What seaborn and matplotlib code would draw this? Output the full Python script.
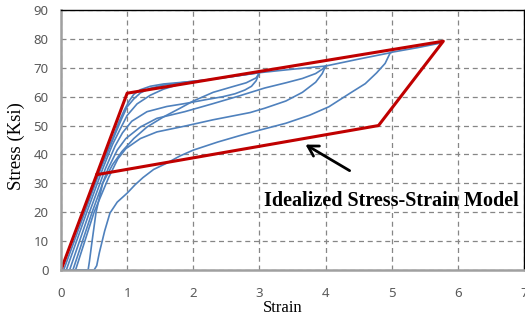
import matplotlib
matplotlib.use("Agg")
import matplotlib.pyplot as plt
import seaborn as sns
import pandas as pd

# ---- data ----
ideal_strain = [0, 1.0, 5.78, 4.8, 0.54]
ideal_stress = [0, 61.2, 79.2, 50.0, 33.0]

c1_x = [0, 0.33, 0.57, 0.78, 0.88, 0.96, 1.03, 1.1, 1.2, 1.35, 1.55, 1.75, 1.9]
c1_y = [0, 20, 34, 45.5, 51.5, 55.5, 58.5, 60.8, 62.4, 63.6, 64.4, 64.8, 65.1]
c2_x = [0.04, 0.36, 0.6, 0.8, 0.91, 1.0, 1.1, 1.2, 1.35, 1.55, 1.75, 1.9, 2.2, 2.6, 3.0]
c2_y = [0, 20, 35, 46, 52, 56.5, 59.2, 61.3, 62.9, 64.0, 64.6, 65.1, 65.8, 67.0, 68.3]
c3_x = [0.08, 0.39, 0.63, 0.78, 0.9, 1.0, 1.15, 1.35, 1.55, 1.72, 1.9, 2.2, 2.6, 3.0, 3.5, 4.0]
c3_y = [0, 20, 35, 43.5, 49, 53.5, 57.5, 60.5, 62.6, 63.8, 65.1, 65.8, 67.0, 68.3, 69.5, 70.6]
c4_x = [0.13, 0.43, 0.67, 0.82, 0.93, 1.07, 1.3, 1.6, 1.87, 2.2, 2.45, 2.63, 2.78, 2.88, 2.95, 3.0]
c4_y = [0, 20, 35, 43, 47.5, 51.5, 54.8, 56.6, 57.6, 59.0, 60.0, 61.0, 62.3, 63.6, 65.5, 68.3]
c5_x = [0.18, 0.47, 0.71, 0.85, 0.98, 1.2, 1.45, 1.87, 2.3, 2.7, 3.08, 3.4, 3.65, 3.85, 3.95, 4.0, 4.5, 5.0]
c5_y = [0, 20, 35, 41.5, 45.5, 49.5, 52.5, 54.8, 57.6, 60.3, 63.0, 64.8, 66.3, 68.0, 69.5, 70.6, 73.0, 75.3]
c6_x = [0.22, 0.5, 0.72, 0.86, 0.98, 1.2, 1.45, 1.87, 2.3, 2.86, 3.08, 3.4, 3.65, 3.85, 3.95, 4.0]
c6_y = [0, 20, 32, 38.5, 42, 45.5, 47.8, 49.8, 52.0, 54.5, 56.0, 58.5, 61.5, 65.0, 68.0, 70.6]
c7_x = [0, 0.41, 0.43, 0.47, 0.53, 0.63, 0.78, 0.92, 1.1, 1.3, 1.55, 1.8, 2.0, 2.3, 2.6, 2.8, 2.95, 3.0]
c7_y = [0, 0, 3, 10, 20, 30, 36.5, 41, 45.5, 49.5, 53, 56, 58.5, 61.5, 63.5, 64.8, 66.5, 68.3]
c8_x = [0, 0.5, 0.54, 0.58, 0.66, 0.74, 0.85, 1.0, 1.12, 1.24, 1.4, 1.6, 1.8, 2.0, 2.37, 2.7,
        3.0, 3.4, 3.76, 4.05, 4.37, 4.6, 4.77, 4.9, 4.98, 5.4, 5.75]
c8_y = [0, 0, 1.5, 6, 13.5, 19.7, 23.5, 26.6, 29.5, 32, 34.8, 37, 39.5, 41.5, 44.3, 46.5,
        48.4, 50.8, 53.6, 56.5, 61.2, 64.5, 68.2, 71.5, 75.3, 77.0, 78.6]

xticks = [0, 1, 2, 3, 4, 5, 6, 7]
yticks = [0, 10, 20, 30, 40, 50, 60, 70, 80, 90]
annotation = "Idealized Stress-Strain Model"

curves = [(c1_x, c1_y), (c2_x, c2_y), (c3_x, c3_y), (c4_x, c4_y),
          (c5_x, c5_y), (c6_x, c6_y), (c7_x, c7_y), (c8_x, c8_y)]
rows = []
for i, (xs, ys) in enumerate(curves):
    for j, (x, y) in enumerate(zip(xs, ys)):
        rows.append({"curve": i, "order": j, "strain": x, "stress": y})
df = pd.DataFrame(rows)
ideal = pd.DataFrame({"strain": ideal_strain, "stress": ideal_stress})

sns.set_theme(style="white")
fig = plt.figure(figsize=(5.25, 3.2), dpi=100)
ax = fig.add_axes([61 / 525, 50 / 320, 463 / 525, 260 / 320])

sns.lineplot(data=df, x="strain", y="stress", units="curve", estimator=None,
             sort=False, color="#4F81BD", lw=1.2, ax=ax)
sns.lineplot(data=ideal, x="strain", y="stress", estimator=None, sort=False,
             color="#C00000", lw=2.2, ax=ax)

ax.set_xlim(0, 7)
ax.set_ylim(0, 90)
ax.set_xticks(xticks)
ax.set_yticks(yticks)
ax.grid(True, color="#868686", lw=0.9, linestyle=(0, (4, 3)))
ax.set_axisbelow(True)
ax.tick_params(axis="both", length=0, labelsize=9.5, labelcolor="#595959")
ax.tick_params(axis="x", pad=12)
ax.tick_params(axis="y", pad=9)
for lab in ax.get_xticklabels() + ax.get_yticklabels():
    lab.set_fontfamily("Noto Sans")

for side in ["left", "bottom"]:
    ax.spines[side].set_color("#A0A0A0")
    ax.spines[side].set_linewidth(1.8)
for side in ["top", "right"]:
    ax.spines[side].set_color("black")
    ax.spines[side].set_linewidth(1.0)

ax.set_xlabel("Strain", fontsize=12, fontfamily="Liberation Serif", color="black",
              va="center")
ax.set_ylabel("Stress (Ksi)", fontsize=13.5, fontfamily="Liberation Serif", color="black",
              va="center")
ax.xaxis.set_label_coords(0.479, -0.146)
ax.yaxis.set_label_coords(-0.097, 0.475)

ax.annotate("", xy=(3.66, 43.9), xytext=(4.40, 33.9),
            arrowprops=dict(arrowstyle="->,head_length=0.6,head_width=0.35",
                            color="black", lw=2))
ax.text(5.0, 24, annotation, ha="center", va="center", fontsize=14.5,
        fontweight="bold", fontfamily="Liberation Serif", color="black")

fig.savefig("out.png", dpi=100)
